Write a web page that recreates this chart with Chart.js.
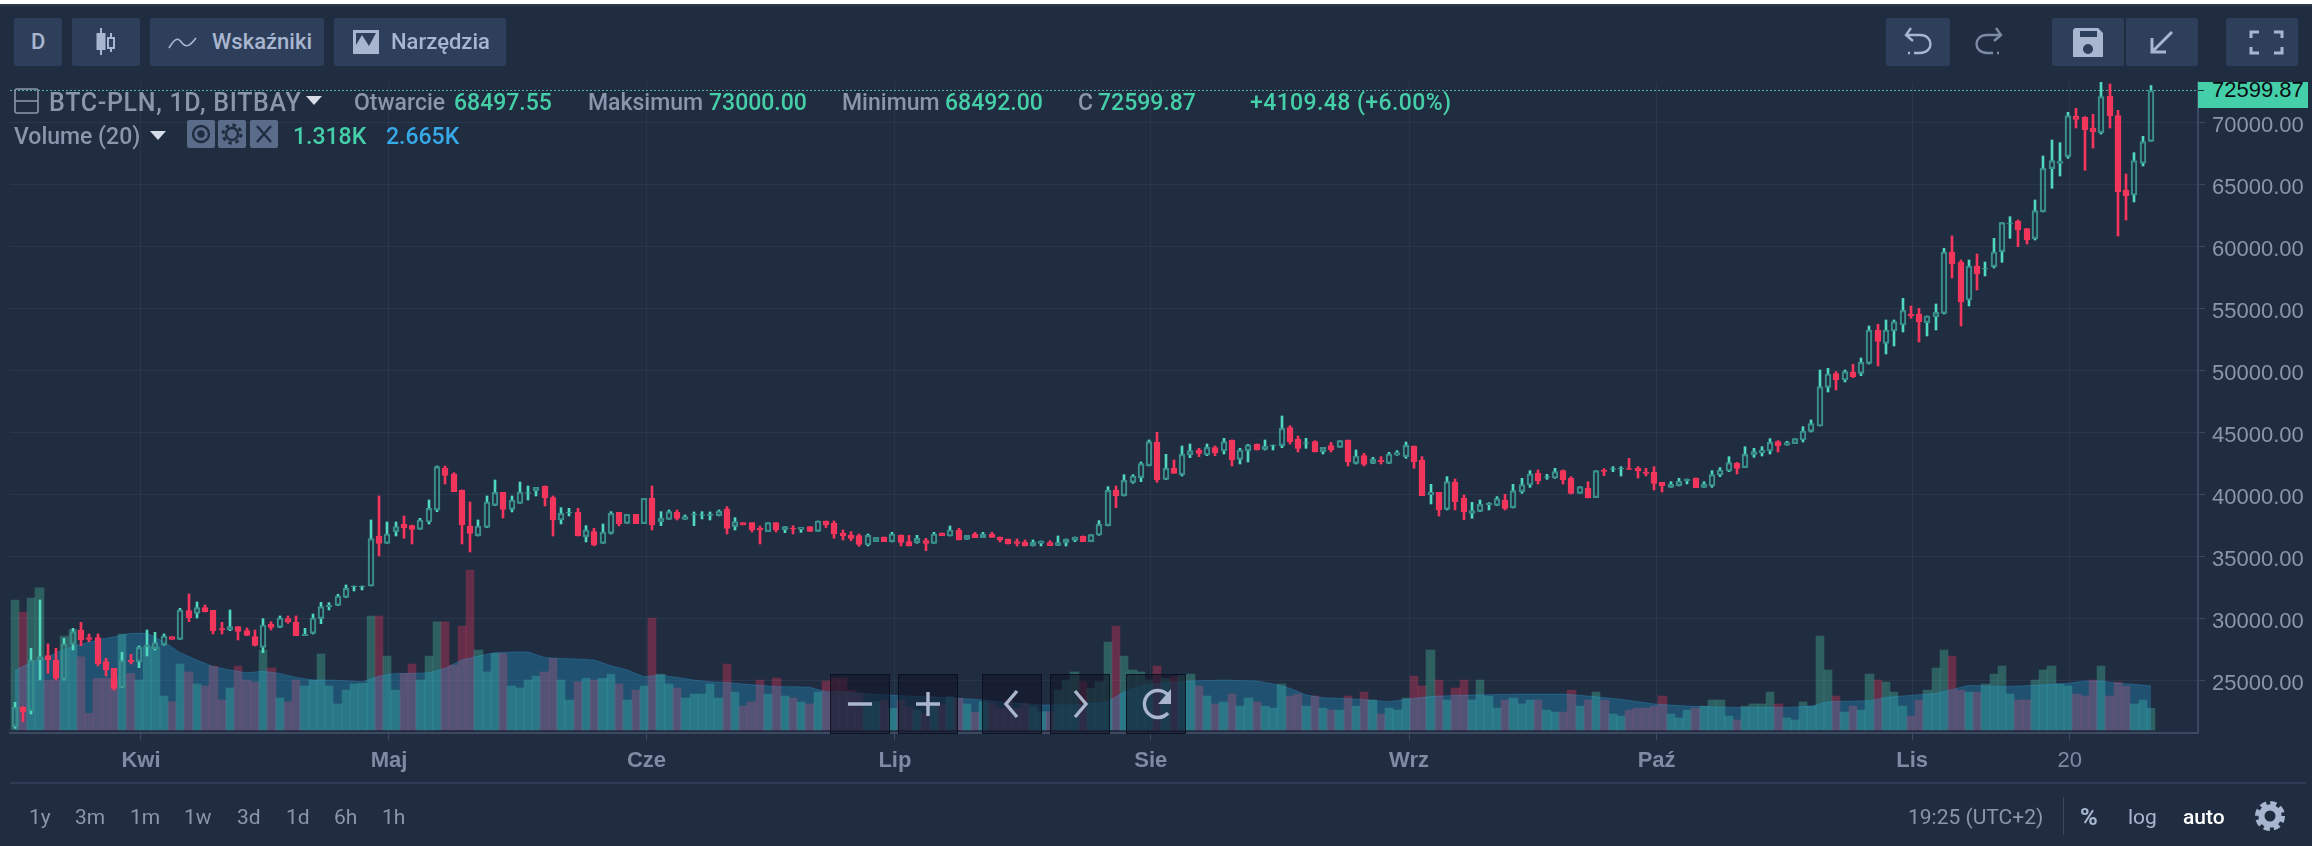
<!DOCTYPE html>
<html lang="pl"><head><meta charset="utf-8"><title>BTC-PLN</title>
<script src="https://cdn.jsdelivr.net/npm/chart.js@4/dist/chart.umd.js"></script>
<style>
html,body{margin:0;padding:0;background:#202c40;width:2312px;height:846px;overflow:hidden}
#wrap{position:relative;width:2312px;height:846px;font-family:Roboto,sans-serif;color:#8b96ad}
canvas{position:absolute;left:0;top:0}
.t{position:absolute;white-space:nowrap;line-height:1;transform:translateY(-50%)}
.b{position:absolute;background:#2e3f5c;border-radius:2px}
.c{position:absolute;background:rgba(18,22,42,.62);border:1.5px solid rgba(11,15,30,.85);box-sizing:border-box}
svg{position:absolute;overflow:visible}
.g{color:#45cfa8}
.m{font-weight:500}
</style></head><body><div id="wrap">
<canvas id="c" width="2312" height="846"></canvas>
<div style="position:absolute;left:0;top:0;width:2312px;height:4px;background:#fff"></div>
<div style="position:absolute;left:0;top:4px;width:2312px;height:2px;background:#2b3a4d"></div>

<div class="b" style="left:14px;top:18px;width:48px;height:48px"></div>
<div class="t m" style="left:31px;top:42px;font-size:22px;color:#a9b6cf">D</div>
<div class="b" style="left:72px;top:18px;width:68px;height:48px"></div>
<svg style="left:0;top:0" width="1" height="1" fill="none" stroke="#a9b6cf" stroke-width="2">
<path d="M101 28V55M111 33V52"/><rect x="97.5" y="34" width="7" height="15" fill="#a9b6cf"/><rect x="108" y="38" width="6" height="10" fill="#2e3f5c"/></svg>
<div class="b" style="left:150px;top:18px;width:174px;height:48px"></div>
<svg style="left:0;top:0" width="1" height="1" fill="none" stroke="#a9b6cf" stroke-width="1.6"><path d="M169 48C175 38 178 37 182 43C186 48 190 46 196 38"/></svg>
<div class="t m" style="left:212px;top:42px;font-size:22px;color:#a9b6cf">Wskaźniki</div>
<div class="b" style="left:334px;top:18px;width:172px;height:48px"></div>
<svg style="left:0;top:0" width="1" height="1"><path fill="#a9b6cf" d="M353 30H379V54H353ZM356 33V45L362 35L369 46L376 33Z" fill-rule="evenodd"/></svg>
<div class="t m" style="left:391px;top:42px;font-size:22px;color:#a9b6cf">Narzędzia</div>

<div class="b" style="left:1886px;top:18px;width:64px;height:48px"></div>
<svg style="left:0;top:0" width="1" height="1" fill="none" stroke="#a9b6cf" stroke-width="2.4">
<path d="M1911 28L1906 35L1913 41M1906 35H1920C1934 35 1934 53 1920 53H1914M1908 53H1910"/></svg>
<svg style="left:0;top:0" width="1" height="1" fill="none" stroke="#7d8aa3" stroke-width="2.4">
<path d="M1996 28L2001 35L1994 41M2001 35H1987C1973 35 1973 53 1987 53H1993M1997 53H1999"/></svg>
<div class="b" style="left:2052px;top:18px;width:72px;height:48px"></div>
<svg style="left:0;top:0" width="1" height="1"><path fill="#a9b6cf" fill-rule="evenodd" d="M2075 28H2098L2103 33V57H2073V30ZM2080 31V37H2097V31ZM2088 44A5 5 0 1 0 2088.01 44Z"/></svg>
<div class="b" style="left:2126px;top:18px;width:72px;height:48px"></div>
<svg style="left:0;top:0" width="1" height="1" fill="none" stroke="#a9b6cf" stroke-width="3"><path d="M2172 32L2153 51M2152 38V52H2166"/></svg>
<div class="b" style="left:2226px;top:18px;width:72px;height:48px"></div>
<svg style="left:0;top:0" width="1" height="1" fill="none" stroke="#a9b6cf" stroke-width="3"><path d="M2251 38V32H2259M2274 32H2282V38M2251 47V53H2259M2274 53H2282V47"/></svg>

<svg style="left:0;top:0" width="1" height="1" fill="none" stroke="#8b96ad" stroke-width="1.6"><rect x="15" y="89" width="23" height="24" rx="2"/><path d="M15 101H38"/></svg>
<div class="t m" style="left:49px;top:102px;font-size:25px;letter-spacing:.7px">BTC-PLN, 1D, BITBAY</div>
<svg style="left:0;top:0" width="1" height="1"><path fill="#d6dce8" d="M306 96H322L314 105Z"/></svg>
<div class="t m" style="left:354px;top:102px;font-size:23px">Otwarcie</div>
<div class="t g m" style="left:454px;top:102px;font-size:23px">68497.55</div>
<div class="t m" style="left:588px;top:102px;font-size:23px">Maksimum</div>
<div class="t g m" style="left:709px;top:102px;font-size:23px">73000.00</div>
<div class="t m" style="left:842px;top:102px;font-size:23px">Minimum</div>
<div class="t g m" style="left:945px;top:102px;font-size:23px">68492.00</div>
<div class="t m" style="left:1078px;top:102px;font-size:23px">C</div>
<div class="t g m" style="left:1098px;top:102px;font-size:23px">72599.87</div>
<div class="t g m" style="left:1250px;top:102px;font-size:23px;letter-spacing:.4px">+4109.48 (+6.00%)</div>
<div class="t m" style="left:14px;top:136px;font-size:23px">Volume (20)</div>
<svg style="left:0;top:0" width="1" height="1"><path fill="#d6dce8" d="M150 131H166L158 140Z"/></svg>
<div class="b" style="left:187px;top:120px;width:28px;height:28px;background:#5a6c8a"></div>
<div class="b" style="left:218px;top:120px;width:28px;height:28px;background:#5a6c8a"></div>
<div class="b" style="left:250px;top:120px;width:28px;height:28px;background:#5a6c8a"></div>
<svg style="left:0;top:0" width="1" height="1" fill="none" stroke="#202c40" stroke-width="2.4">
<circle cx="201" cy="134" r="8"/><circle cx="201" cy="134" r="2.5" fill="#202c40"/>
<circle cx="232" cy="134" r="6"/><circle cx="232" cy="134" r="9" stroke-dasharray="3.5 3.6" stroke-width="3"/>
<path d="M257 126L271 142M271 126L257 142"/></svg>
<div class="t g m" style="left:293px;top:136px;font-size:23px">1.318K</div>
<div class="t m" style="left:386px;top:136px;font-size:23px;color:#36a9e8">2.665K</div>

<div style="position:absolute;left:2198px;top:82px;width:110px;height:26px;background:#45cfa8;overflow:hidden"><div style="position:absolute;left:14px;top:-3px;font:22px/22px 'Liberation Sans';color:#0a0d12">72599.87</div></div>
<div style="position:absolute;left:2198px;top:90px;width:6px;height:1px;background:#202c40"></div>

<div style="position:absolute;left:10px;top:782px;width:2296px;height:2px;background:#2f3b55"></div>
<div class="t" style="left:29px;top:817px;font-size:21px">1y</div>
<div class="t" style="left:75px;top:817px;font-size:21px">3m</div>
<div class="t" style="left:130px;top:817px;font-size:21px">1m</div>
<div class="t" style="left:184px;top:817px;font-size:21px">1w</div>
<div class="t" style="left:237px;top:817px;font-size:21px">3d</div>
<div class="t" style="left:286px;top:817px;font-size:21px">1d</div>
<div class="t" style="left:334px;top:817px;font-size:21px">6h</div>
<div class="t" style="left:382px;top:817px;font-size:21px">1h</div>
<div class="t" style="left:1908px;top:817px;font-size:21px">19:25 (UTC+2)</div>
<div style="position:absolute;left:2063px;top:797px;width:1px;height:38px;background:#3a4660"></div>
<div class="t" style="left:2080px;top:817px;font-size:24px;font-weight:700;color:#a9b6cf">%</div>
<div class="t" style="left:2128px;top:817px;font-size:21px;color:#a9b6cf">log</div>
<div class="t" style="left:2183px;top:817px;font-size:21px;font-weight:500;color:#fff">auto</div>
<svg style="left:0;top:0" width="1" height="1" fill="none" stroke="#a9b6cf"><circle cx="2270" cy="816" r="8.5" stroke-width="6"/><circle cx="2270" cy="816" r="12.5" stroke-width="5" stroke-dasharray="6 3.8"/></svg>

<div class="c" style="left:830px;top:674px;width:60px;height:60px"></div>
<div class="c" style="left:898px;top:674px;width:60px;height:60px"></div>
<div class="c" style="left:982px;top:674px;width:60px;height:60px"></div>
<div class="c" style="left:1050px;top:674px;width:60px;height:60px"></div>
<div class="c" style="left:1126px;top:674px;width:60px;height:60px"></div>
<svg style="left:0;top:0" width="1" height="1" fill="none" stroke="#aab6cd" stroke-width="3.4">
<path d="M848 704H872M916 704H940M928 692V716M1017 691L1006 704L1017 717M1075 691L1086 704L1075 717"/>
<path d="M1168 695A13.5 13.5 0 1 0 1168 713"/></svg>
<svg style="left:0;top:0" width="1" height="1"><path fill="#aab6cd" d="M1171 689V704H1158Z"/></svg>
</div>
<script>
const opens=[21295,22854,22585,26671,27020,26671,25112,27934,29090,28472,28472,26537,25999,24467,26671,26537,27746,27585,27881,28553,28338,30649,30434,30891,30676,29198,29090,29359,29036,28553,27692,29574,29305,30004,29708,28633,28821,30004,30945,31079,31724,32585,32585,32638,36670,36079,37020,37638,37504,37208,37799,38767,42154,41670,40380,37477,36697,37369,39143,40192,38821,39305,40111,40326,40702,39762,37961,38525,38606,36617,37020,36079,36885,38579,37692,38418,37665,39708,37826,38014,38579,38014,38364,38337,38337,38310,38848,37423,37746,37746,37289,37020,37746,37154,37289,37208,37423,37047,37880,37692,36885,36751,36697,35945,36213,36590,36213,36751,36213,36133,36294,36079,36912,36670,37154,36402,36832,36536,36832,36590,36428,36213,36160,35864,36079,36133,35918,36133,36321,36670,36213,36751,37504,40380,39923,40998,41374,42342,44224,41240,42127,41616,43202,43605,43202,43793,43525,44412,42853,43551,44089,43659,43955,43955,45406,44465,44143,44277,43471,43955,43820,44412,42530,43148,42530,42799,42530,43202,43068,43928,42799,39976,40191,38821,40998,39734,38498,38659,39170,39143,39573,38955,40245,40783,41724,41401,41347,41939,41320,40111,40514,39761,41992,42046,42073,42100,42127,41831,41804,40998,40595,40729,41105,41347,40595,40702,41589,41912,42530,42181,43202,43363,43525,44277,44008,44116,44413,45111,45542,48660,49762,49251,49896,49789,50595,53283,52208,53202,53686,54546,54573,53874,54331,54627,59573,58767,55702,58444,58202,58390,59600,61831,62046,61454,60648,62825,66293,66723,67260,70513,70432,69545,69196,72126,70567,64572,64169,66723,68497.55];
const highs=[23257,22908,27612,31509,27961,27612,28418,29225,29708,28768,28768,26805,25999,27289,27128,27800,29090,28902,28768,28553,30837,31993,31348,31106,30676,29708,30703,29359,29251,29090,30004,29762,30219,30219,30219,29225,30380,31321,31294,31966,32719,32638,32638,37961,39896,37799,37799,38283,37557,38095,39573,42315,42315,41778,40380,39412,37961,39896,41186,40192,39896,41025,40702,40595,40702,39896,38955,38901,38901,37504,37289,37638,38633,38579,38418,38418,39708,40702,38633,38767,38767,38364,38606,38633,38606,38767,39036,38149,37746,37746,37477,37746,37746,37423,37504,37369,37423,37880,37880,37880,37154,37020,36832,36832,36563,36590,36966,36751,36724,36724,36482,36966,36912,37477,37289,36724,36966,36966,36966,36590,36428,36428,36348,36348,36267,36294,36670,36428,36590,36670,36778,37907,40649,40702,41616,41616,42638,44412,45030,43256,42799,43928,44089,43740,44089,43928,44546,44412,43740,44062,44089,44412,44008,46347,45567,44734,44546,44358,43820,44223,44358,44412,43605,43336,43014,43068,43417,43551,44250,43928,43068,40837,40191,41455,41267,39976,39385,39573,39358,39842,40030,40837,41320,41939,41992,41643,42127,41992,41455,40648,41052,41939,42100,42261,42261,42933,42261,42127,42261,40998,41052,41320,41267,41347,41052,41939,42181,43068,42611,43874,43740,43874,44519,44358,44304,44519,45488,46025,50057,50192,49923,50057,50514,51025,53606,53740,54089,54089,55837,55218,55030,54412,55380,59869,60863,58928,58928,59412,58767,60675,61938,62422,62153,61454,63766,67314,68604,68389,70835,71158,70486,70674,73308,73120,70997,65863,67583,68900,73000];
const lows=[21161,21698,22316,25058,25596,25058,25058,27477,27827,28149,26187,25381,24252,24440,26348,26053,26994,27477,27854,28338,28338,29762,30058,30542,28768,28768,29036,28284,28633,27800,27262,29090,29278,29628,28633,28633,28768,29601,30703,31052,31698,32235,32316,32638,35058,36079,36670,36482,36025,37208,37638,38633,40864,40245,36025,35380,36670,37342,39116,38122,38606,39305,39573,39896,39090,36670,37638,38283,36670,36187,35864,36079,36832,37477,37692,37665,37665,37154,37504,38014,37961,38014,37504,38041,37961,38283,36832,37154,37557,36993,36025,37020,36993,36939,36832,36966,37047,37047,37342,36482,36348,36294,35837,35864,36213,36213,36187,35864,35864,36079,35488,36079,36697,36670,36348,36402,36536,36536,36563,36187,36025,35864,35864,35864,35864,35891,35891,35864,36213,36213,36213,36724,37477,38955,39896,40917,41052,42315,40998,41213,41724,41509,42987,43070,43148,43148,43283,42315,42476,42638,43605,43605,43605,43793,44089,43444,43740,43444,43283,43444,43820,42315,42476,42315,42503,42476,42503,43175,42933,42127,39923,39251,38283,38767,38767,37987,38095,38632,38767,39116,38767,38928,40111,40595,40863,41240,41320,40863,40057,40111,39734,39761,41535,41858,41509,42046,41347,41509,40380,40218,40595,40702,40863,40568,40595,40595,41455,41858,41670,42181,43014,43121,43283,43444,43982,44116,44251,45058,45542,48283,48445,49090,49439,49600,50541,50380,51348,51993,53122,54224,52315,52799,53283,54573,57476,53606,55218,56509,57638,58283,58739,60675,60003,60218,60540,62798,64707,65701,67126,69572,66158,67959,69088,69572,60863,62153,63605,66508,68492];
const closes=[22854,22505,26671,26940,26671,25193,27961,28956,28284,28338,26348,25865,24386,26617,26510,27692,27881,28069,28606,28338,30703,30085,30891,30569,29036,29090,29359,28983,28660,27854,29493,29305,30058,29762,28633,28768,30058,30972,31106,31832,32450,32638,32638,36455,36079,36832,37423,37315,37208,37961,38901,42261,41563,40245,37557,36885,37477,39412,40192,38821,39573,40219,40165,40595,39762,37961,38498,38579,36670,37154,35945,36993,38498,37638,38418,37665,39708,37557,38095,38633,38095,38229,38444,38391,38418,38686,37289,37826,37557,37154,37154,37746,37154,37423,37235,37369,37047,37880,37557,36832,36670,36482,35998,36724,36563,36213,36832,36160,35864,36482,36079,36832,36697,37154,36348,36724,36536,36832,36563,36348,36025,36079,35864,36160,36267,35891,36133,36428,36590,36213,36778,37611,40353,39923,41159,41509,42503,44277,41186,42127,41724,43256,43552,43336,43820,43390,44277,42799,43605,44008,43605,43928,44008,45352,44277,43740,44197,43444,43820,43605,44358,42664,43121,42449,42853,42664,43283,43390,43982,42664,39923,40191,38767,41052,39439,38632,38713,39224,39304,39681,38901,40326,40810,41670,41132,41455,41858,41186,40111,40648,39761,41939,41885,42100,42127,42046,41912,41724,40917,40702,40863,41105,41267,40568,40863,41616,41992,42584,42127,43256,43471,43578,44223,43955,44197,44519,45138,45730,48713,49735,49251,49923,49520,50676,53283,52369,53283,53955,54869,54412,53928,54412,54708,59573,58605,55541,58444,57799,58256,59573,61938,61884,61347,60540,62906,66320,66938,66911,70567,70271,69438,69276,72099,70567,64438,64115,66938,68470,72599.87];
const volumes=[7.88,7.15,8.0,8.61,3.03,3.03,5.70,6.10,4.44,1.01,3.13,3.13,3.13,5.82,3.43,3.03,5.05,5.05,2.06,1.72,4.0,3.52,2.79,2.67,3.88,1.82,2.55,3.88,3.03,2.91,4.85,3.76,1.94,1.70,3.03,2.67,3.03,4.61,2.67,1.58,2.42,2.79,2.83,6.91,6.91,4.48,2.42,3.43,4.0,3.03,4.48,6.55,6.55,3.94,6.30,9.70,4.85,3.52,4.65,4.65,2.67,2.55,3.03,3.27,3.52,4.34,3.03,1.82,2.93,3.13,3.03,3.13,3.39,2.79,1.82,2.42,2.67,6.79,3.39,2.79,2.55,1.94,2.18,2.18,2.79,1.94,4.0,2.30,1.45,1.70,3.03,2.18,3.15,2.06,1.94,1.70,1.58,2.30,2.97,3.15,3.15,2.42,2.22,1.62,1.72,1.82,1.31,1.82,1.41,1.21,1.01,1.62,1.52,2.02,1.92,1.58,1.09,1.72,1.62,1.31,1.82,1.31,1.62,1.41,1.11,1.11,2.42,3.03,3.52,2.93,2.53,2.93,5.33,6.30,4.48,3.64,3.52,3.03,3.88,3.13,3.23,3.33,3.39,2.67,2.06,1.58,1.70,2.18,1.45,1.94,1.70,1.45,1.33,2.79,2.06,2.18,1.45,2.06,1.33,1.21,1.21,2.06,1.45,2.30,1.82,0.97,1.33,1.21,1.94,3.27,2.67,4.85,3.03,1.82,2.55,3.03,1.82,3.03,2.06,1.33,1.82,1.94,1.58,1.82,1.82,1.21,1.09,1.09,2.42,1.45,1.82,2.30,1.82,0.97,0.85,1.21,1.33,1.33,1.45,2.06,0.97,0.73,1.21,1.33,1.45,1.82,1.82,0.85,0.61,1.45,1.58,1.58,2.30,1.58,0.73,0.61,1.70,1.45,5.70,3.64,2.06,1.09,1.45,1.21,3.39,3.03,2.91,2.30,1.45,0.85,1.82,2.42,3.76,4.85,4.48,2.42,2.30,2.30,2.79,3.39,3.88,2.18,1.82,1.82,3.03,3.64,3.88,2.79,2.67,2.18,2.06,3.03,3.88,2.06,2.91,2.67,1.58,1.82,1.318];
const volumeAvgDays=[0,2,4,6,8,10,12,14,16,18,20,22,24,26,28,30,32,34,36,38,40,42,44,46,48,50,52,54,56,58,60,62,64,66,68,70,72,74,76,78,80,82,84,86,88,90,92,94,96,98,100,104,108,112,116,120,124,128,132,134,136,138,142,146,150,152,154,156,158,162,166,170,172,176,182,187,190,194,198,202,208,214,217,219,224,226,232,234,236,240,244,248,250,252,254,256,258];
const volumeAvg=[3.60,4.10,4.44,4.89,5.21,5.45,5.66,5.86,5.86,5.35,4.69,4.24,3.84,3.64,3.47,3.56,3.43,3.19,3.03,3.03,2.99,2.93,3.27,3.43,3.43,3.47,3.74,4.24,4.48,4.69,4.73,4.73,4.40,4.34,4.30,4.24,3.90,3.64,3.23,3.33,3.19,3.03,2.93,2.87,2.79,2.71,2.63,2.63,2.59,2.32,2.32,2.16,2.06,1.98,1.86,1.66,1.52,1.52,1.72,2.32,2.67,2.83,2.97,3.03,2.97,2.79,2.53,2.12,1.96,1.88,1.72,1.98,2.06,2.12,2.18,2.18,2.06,1.86,1.58,1.45,1.37,1.37,1.45,1.72,1.78,1.98,2.22,2.46,2.71,2.63,2.71,2.83,2.97,2.97,2.83,2.77,2.665];
const priceTicks=[25000,30000,35000,40000,45000,50000,55000,60000,65000,70000];
const monthTickDays=[15.25,45.2,76.3,106.3,137.2,168.4,198.3,229.15,248.2];
const monthTickLabels=['Kwi','Maj','Cze','Lip','Sie','Wrz','Paź','Lis','20'];
const lastPrice=72599.87;

const UP_WICK='#4fd8bd',UP_BODY='#3a8f8d',DOWN='#f5365c';
const days=opens.map((_,i)=>i);
const isUp=i=>closes[i]>=opens[i];
const colors=(a,b)=>days.map(i=>isUp(i)?a:b);
const xMin=-0.568,xMax=263.68;
const gridColor='#2a364c',axisColor='#3d4963';

/* the library's bars land on fractional pixels; snap their edges so that neighbours meet without seams */
const snapBars={id:'snapBars',afterDatasetsUpdate(chart){
  chart.getSortedVisibleDatasetMetas().forEach(m=>{
    if(m.type!=='bar')return;
    m.data.forEach(el=>{
      const l=Math.round(el.x-el.width/2),r=Math.round(el.x+el.width/2);
      el.x=(l+r)/2;el.width=r-l;
    });
  });
}};

new Chart(document.getElementById('c'),{
  plugins:[snapBars],
  data:{datasets:[
    {type:'bar',order:5,yAxisID:'vol',grouped:false,barThickness:8.28,borderWidth:0,
     backgroundColor:colors('rgba(80,215,175,.3)','rgba(245,54,92,.33)'),
     data:days.map(i=>({x:i,y:volumes[i]}))},
    {type:'line',order:4,yAxisID:'vol',fill:'origin',pointRadius:0,borderWidth:1,tension:0,
     borderColor:'rgba(54,169,232,.28)',backgroundColor:'rgba(30,190,255,.25)',
     data:volumeAvgDays.map((d,i)=>({x:d,y:volumeAvg[i]}))},
    {type:'line',order:3,yAxisID:'y',pointRadius:0,borderWidth:1,borderDash:[2,2],borderColor:'#54b8a8',
     data:[{x:xMin,y:lastPrice},{x:xMax,y:lastPrice}]},
    {type:'bar',order:2,yAxisID:'y',grouped:false,barThickness:2,borderWidth:0,
     backgroundColor:colors(UP_WICK,DOWN),
     data:days.map(i=>({x:i,y:[Math.max(opens[i],closes[i]),highs[i]]}))},
    {type:'bar',order:2,yAxisID:'y',grouped:false,barThickness:2,borderWidth:0,
     backgroundColor:colors(UP_WICK,DOWN),
     data:days.map(i=>({x:i,y:[lows[i],Math.min(opens[i],closes[i])]}))},
    {type:'bar',order:1,yAxisID:'y',grouped:false,barThickness:6,borderSkipped:false,borderWidth:1.5,
     backgroundColor:colors('rgba(0,0,0,0)',DOWN),borderColor:colors(UP_BODY,DOWN),
     data:days.map(i=>({x:i,y:[opens[i],closes[i]]}))}
  ]},
  options:{
    responsive:false,animation:false,devicePixelRatio:1,
    layout:{padding:{left:10,top:82,right:0,bottom:63}},
    plugins:{legend:{display:false},tooltip:{enabled:false}},
    scales:{
      x:{type:'linear',offset:false,min:xMin,max:xMax,
        afterFit(s){s.height=50},
        afterBuildTicks(s){s.ticks=monthTickDays.map(v=>({value:v}))},
        grid:{color:gridColor,lineWidth:1,tickLength:7,tickColor:axisColor,offset:false},
        border:{color:axisColor,width:2},
        ticks:{autoSkip:false,maxRotation:0,padding:8,color:'#7f8aa3',
          callback:v=>monthTickLabels[monthTickDays.indexOf(v)],
          font:c=>({family:"'Liberation Sans'",size:22,weight:monthTickLabels[c.index]==='20'?'normal':'bold'})}},
      y:{type:'linear',position:'right',min:20782,max:73282,
        afterFit(s){s.width=114},
        afterBuildTicks(s){s.ticks=priceTicks.map(v=>({value:v}))},
        grid:{color:gridColor,lineWidth:1,tickLength:7,tickColor:axisColor},
        border:{color:axisColor,width:2},
        ticks:{padding:7,color:'#8b95ab',font:{family:"'Liberation Sans'",size:22,lineHeight:'5.6px'},callback:v=>['',v.toFixed(2)]}},
      vol:{type:'linear',display:false,min:-0.18,max:39.27}
    }
  }
});
</script></body></html>
